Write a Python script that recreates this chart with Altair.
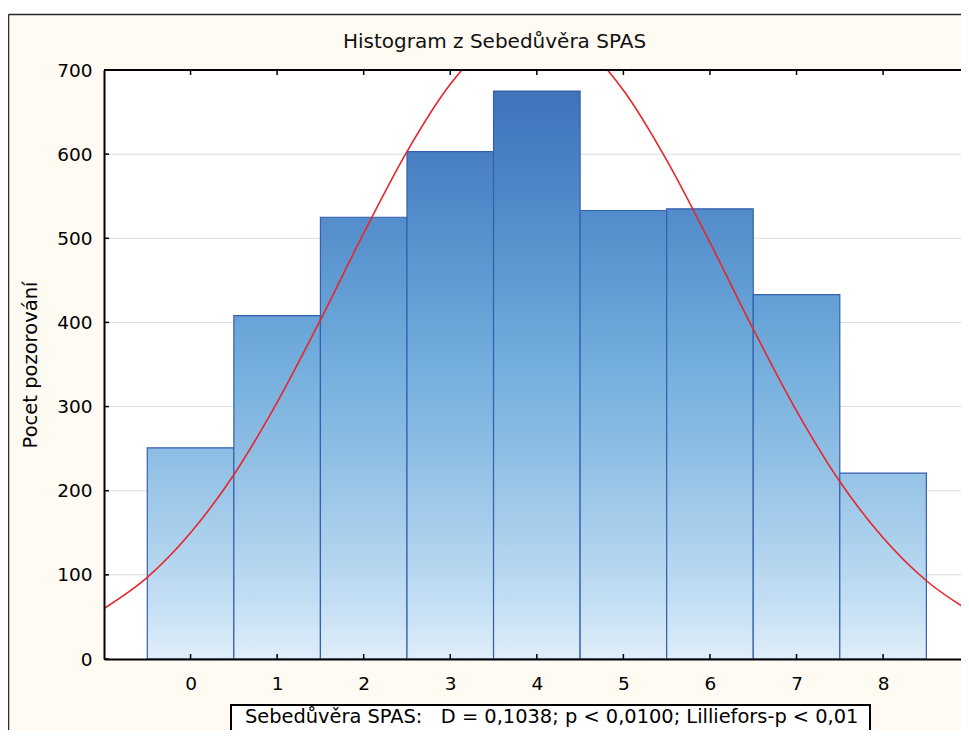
import altair as alt
import pandas as pd

# ---- data ----
bins = [0, 1, 2, 3, 4, 5, 6, 7, 8]
counts = [251, 408, 525, 603, 675, 533, 535, 433, 221]
curve_x = [-1.0, -0.5, 0.0, 0.5, 1.0, 1.5, 2.0, 2.5, 3.0, 3.5, 4.0,
           4.5, 5.0, 5.5, 6.0, 6.5, 7.0, 7.5, 8.0, 8.5, 9.0]
curve_y = [60, 97, 150, 219, 305, 403, 506, 603, 683, 736, 753,
           732, 676, 593, 495, 392, 295, 211, 144, 93, 57]
y_ticks = [0, 100, 200, 300, 400, 500, 600, 700]
x_ticks = [0, 1, 2, 3, 4, 5, 6, 7, 8]
grid_values = [100, 200, 300, 400, 500, 600]
title_text = "Histogram z Sebedůvěra SPAS"
y_title = "Pocet pozorování"
note_text = "Sebedůvěra SPAS:\u00a0\u00a0\u00a0D = 0,1038; p < 0,0100; Lilliefors-p < 0,01"

# plot area: the reference plot runs past the right edge of the picture
W, H = 857, 589
XMIN, XMAX = -1, 8.9
FONT = "DejaVu Sans"
YMAX = 700

bars_df = pd.DataFrame({"bin": bins, "count": counts})
curve_df = pd.DataFrame({"x": curve_x, "y": curve_y})
yt_df = pd.DataFrame({"v": y_ticks})
xt_df = pd.DataFrame({"v": x_ticks})
grid_df = pd.DataFrame({"v": grid_values})
one = alt.Data(values=[{}])

xscale = alt.Scale(domain=[XMIN, XMAX], nice=False, zero=False)
yscale = alt.Scale(domain=[0, YMAX], nice=False, zero=False)

x_axis = alt.Axis(values=x_ticks, orient="bottom", title=None, grid=False, ticks=False,
                  domain=True, domainColor="black", domainWidth=2, labelFont=FONT,
                  labelFontSize=18.5, labelColor="black", labelPadding=15, labelFlush=False,
                  zindex=1, format="d")
y_axis = alt.Axis(values=y_ticks, orient="left", title=y_title, grid=False, ticks=False,
                  domain=True, domainColor="black", domainWidth=2, labelFont=FONT,
                  labelFontSize=18.5, labelColor="black", labelPadding=12, format="d",
                  titleFont=FONT, titleFontSize=19.5, titleFontWeight="normal",
                  titleColor="black", titleX=-74, titleY=294.5, titleAngle=270,
                  titleAlign="center", titleBaseline="middle", zindex=1)

# gradient stops in absolute value terms (value -> colour)
grad_stops = [(700, "#3b6db6"), (650, "#4277bd"), (550, "#4f88c8"), (450, "#5f9bd3"),
              (350, "#74aedd"), (250, "#8dbde4"), (150, "#a9cfec"), (60, "#c6e0f4"),
              (0, "#e0eef9")]

grid = alt.Chart(grid_df).mark_rule(color="#dcdcdc", strokeWidth=1).encode(
    y=alt.Y("v:Q", scale=yscale, axis=y_axis))

bar_layers = []
for b, c in zip(bins, counts):
    g = alt.Gradient(
        gradient="linear",
        stops=[alt.GradientStop(offset=1 - v / YMAX, color=col) for v, col in grad_stops],
        x1=0, x2=0, y1=1 - YMAX / c, y2=1)
    layer = alt.Chart(bars_df).transform_filter(alt.datum.bin == b).transform_calculate(
        x0="datum.bin - 0.5", x1="datum.bin + 0.5"
    ).mark_rect(fill=g, stroke="#3560ae", strokeWidth=1.2).encode(
        x=alt.X("x0:Q", scale=xscale, axis=x_axis),
        x2="x1:Q",
        y=alt.Y("count:Q", scale=yscale, axis=y_axis),
        y2=alt.datum(0),
    )
    bar_layers.append(layer)

curve = alt.Chart(curve_df).mark_line(color="#e8262a", strokeWidth=1.6, clip=True,
                                      interpolate="monotone").encode(
    x=alt.X("x:Q", scale=xscale, axis=x_axis),
    y=alt.Y("y:Q", scale=yscale, axis=y_axis))

tick_left = alt.Chart(yt_df).mark_rule(color="black", strokeWidth=1.5).encode(
    y=alt.Y("v:Q", scale=yscale, axis=y_axis), x=alt.value(0), x2=alt.value(5))
tick_top = alt.Chart(xt_df).mark_rule(color="black", strokeWidth=1.5).encode(
    x=alt.X("v:Q", scale=xscale, axis=x_axis), y=alt.value(0), y2=alt.value(5))
tick_bottom = alt.Chart(xt_df).mark_rule(color="black", strokeWidth=1.5).encode(
    x=alt.X("v:Q", scale=xscale, axis=x_axis), y=alt.value(H - 5), y2=alt.value(H))

top_border = alt.Chart(one).mark_rule(color="black", strokeWidth=2).encode(
    x=alt.value(0), x2=alt.value(W), y=alt.value(0))

white_strip = alt.Chart(one).mark_rect(fill="white").encode(
    x=alt.value(-96), x2=alt.value(W + 10), y=alt.value(-62), y2=alt.value(-55.5))
frame_top = alt.Chart(one).mark_rule(color="#2a2a2a", strokeWidth=1.5).encode(
    x=alt.value(-95.5), x2=alt.value(W + 10), y=alt.value(-55.5))
frame_left = alt.Chart(one).mark_rule(color="#2a2a2a", strokeWidth=1.5).encode(
    x=alt.value(-95.5), y=alt.value(-55.5), y2=alt.value(H + 90))

title = alt.Chart(one).mark_text(text=title_text, font=FONT, fontSize=20, color="#111111",
                                 align="center", baseline="alphabetic").encode(
    x=alt.value(390.5), y=alt.value(-22.5))

note_box = alt.Chart(one).mark_rect(fill="white", stroke="black", strokeWidth=2).encode(
    x=alt.value(127), x2=alt.value(766), y=alt.value(635), y2=alt.value(700))
note = alt.Chart(one).mark_text(text=note_text, font=FONT, fontSize=19.4, color="black",
                                align="left", baseline="alphabetic").encode(
    x=alt.value(141), y=alt.value(653))

chart = alt.layer(
    grid, *bar_layers, curve, tick_left, tick_top, tick_bottom, top_border,
    white_strip, frame_top, frame_left, title, note_box, note
).properties(
    width=W, height=H,
    padding={"left": 96, "top": 62, "right": 0, "bottom": 71},
    autosize=alt.AutoSizeParams(type="none"),
    background="#fffbf3",
).configure_view(fill="white", stroke=None)

chart.save("out.html", embed_options={"renderer": "svg", "actions": False})
